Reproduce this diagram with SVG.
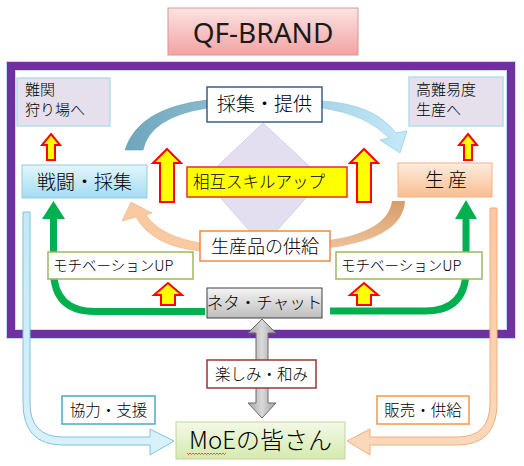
<svg xmlns="http://www.w3.org/2000/svg" width="524" height="466" viewBox="0 0 524 466">
<defs>
<linearGradient id="gTitle" x1="0" y1="0" x2="0" y2="1"><stop offset="0" stop-color="#FCE3E3"/><stop offset="1" stop-color="#F3A3A3"/></linearGradient>
<linearGradient id="gBlue" x1="0" y1="0" x2="0" y2="1"><stop offset="0" stop-color="#E3F6FD"/><stop offset="1" stop-color="#A3DCF3"/></linearGradient>
<linearGradient id="gPeach" x1="0" y1="0" x2="0" y2="1"><stop offset="0" stop-color="#FDEDE0"/><stop offset="1" stop-color="#F9BE8E"/></linearGradient>
<linearGradient id="gGray" x1="0" y1="0" x2="0" y2="1"><stop offset="0" stop-color="#F4F4F4"/><stop offset="1" stop-color="#BDBDBD"/></linearGradient>
<linearGradient id="gGreen" x1="0" y1="0" x2="0" y2="1"><stop offset="0" stop-color="#F3F9E6"/><stop offset="1" stop-color="#D5EAAE"/></linearGradient>
<linearGradient id="gArcBlue" gradientUnits="userSpaceOnUse" x1="125" y1="0" x2="405" y2="0"><stop offset="0" stop-color="#6FA6BC"/><stop offset="1" stop-color="#C2E9F8"/></linearGradient>
<linearGradient id="gArcTan" gradientUnits="userSpaceOnUse" x1="0" y1="200" x2="0" y2="250"><stop offset="0" stop-color="#D59D68"/><stop offset="1" stop-color="#EEC39C"/></linearGradient>
<linearGradient id="gShaft" x1="0" y1="0" x2="1" y2="0"><stop offset="0" stop-color="#A6A6A6"/><stop offset="0.5" stop-color="#D9D9D9"/><stop offset="1" stop-color="#A0A0A0"/></linearGradient>
<linearGradient id="gLB" x1="0" y1="0" x2="0" y2="1"><stop offset="0" stop-color="#C5E9F7"/><stop offset="1" stop-color="#D9F1FA"/></linearGradient>
<linearGradient id="gLO" x1="0" y1="0" x2="0" y2="1"><stop offset="0" stop-color="#FAC8A0"/><stop offset="1" stop-color="#FCD9BC"/></linearGradient>
</defs>
<style>
.jp{font-family:"Noto Sans CJK JP","Noto Sans",sans-serif;font-weight:300;fill:#000}
.yl{fill:#FFFF00;stroke:#FF0000;stroke-width:2;stroke-linejoin:miter}
.lbl{fill:#fff;stroke-width:1.5}
.grn{fill:none;stroke:#00B050;stroke-width:7}
</style>
<rect width="524" height="466" fill="#fff"/>

<g id="title">
<rect x="168" y="8" width="190" height="47" fill="url(#gTitle)" stroke="#D99694" stroke-width="1"/>
<text x="263" y="43" text-anchor="middle" font-family="'Noto Sans',sans-serif" font-size="28" fill="#1a1a1a">QF-BRAND</text>
</g>

<g id="frame">
<rect x="6.5" y="61.5" width="509" height="277" fill="none" stroke="#C6DBEF" stroke-width="1"/>
<rect x="11" y="66" width="500" height="268" fill="#fff" stroke="#7030A0" stroke-width="8"/>
<rect x="15.5" y="70.5" width="491" height="259" fill="none" stroke="#C6DBEF" stroke-width="1"/>
</g>

<g id="diamond">
<polygon points="263,123 323,179 263,246 204,179" fill="#E3DEF0" stroke="#D6D0E8" stroke-width="1"/>
</g>

<g id="connectors">
<path d="M125,150 Q138,108 207,100 L207,108 Q150,117 143,150 Z" fill="url(#gArcBlue)" stroke="#6A9FB5" stroke-width="0.6"/>
<path d="M322,101 Q374,104 396,133 L407,131 L400,153 L380,140 L389,138 Q366,114 322,108 Z" fill="url(#gArcBlue)" stroke="#8AC3DA" stroke-width="0.6"/>
<path d="M392,201 L405,201 Q403,238 330,248 L330,240 Q388,231 392,201 Z" fill="url(#gArcTan)"/>
<path d="M200,243 Q160,236 146,215 L152,213 L131,202 L122,221 L136,217 Q152,246 200,251 Z" fill="#F9C9A2" stroke="#F0AE7E" stroke-width="0.6"/>
<path class="grn" d="M205,311.5 L95,311.5 Q53.5,311.5 53.5,270 L53.5,216"/>
<polygon points="42,219 53.5,201 65,219" fill="#00B050"/>
<path class="grn" d="M330,311 L425,311 Q466,311 466,270 L466,216"/>
<polygon points="455,219 466,200 477,219" fill="#00B050"/>
<path d="M23,212 L30,212 L30,403 Q30,437 63,437 L150,437 L150,429 L174,441 L150,455 L150,445 L63,445 Q23,445 23,403 Z" fill="url(#gLB)" stroke="#7EC4DE" stroke-width="1"/>
<path d="M497,208 L490,208 L490,403 Q490,437 457,437 L370,437 L370,429 L347,441 L370,455 L370,445 L457,445 Q497,445 497,403 Z" fill="url(#gLO)" stroke="#F3AE7C" stroke-width="1"/>
<path d="M262,319 L276,333 L268,333 L268,403 L276,403 L262,418 L248,403 L256,403 L256,333 L248,333 Z" fill="url(#gShaft)" stroke="#6b6b6b" stroke-width="1"/>
<polygon class="yl" points="51,134 60,145 55,145 55,160 47,160 47,145 42,145"/>
<polygon class="yl" points="468,134 477,145 472,145 472,160 464,160 464,145 459,145"/>
<polygon class="yl" points="167,149 181,163 174,163 174,202 160,202 160,163 153,163"/>
<polygon class="yl" points="364,149 378,163 371,163 371,202 357,202 357,163 350,163"/>
<polygon class="yl" points="168,283 182,295 175,295 175,305 161,305 161,295 154,295"/>
<polygon class="yl" points="364,283 378,295 371,295 371,305 357,305 357,295 350,295"/>
</g>

<g id="n-nankan">
<rect x="17" y="78" width="93" height="48" fill="#E5E0EC" stroke="#B7DDE8" stroke-width="1.5"/>
<text class="jp" x="25" y="95" font-size="15">難関</text>
<text class="jp" x="25" y="115" font-size="15">狩り場へ</text>
</g>
<g id="n-kounan">
<rect x="409" y="77" width="94" height="49" fill="#E5E0EC" stroke="#B7DDE8" stroke-width="1.5"/>
<text class="jp" x="416" y="95" font-size="15">高難易度</text>
<text class="jp" x="416" y="115" font-size="15">生産へ</text>
</g>
<g id="n-sentou">
<rect x="22" y="165" width="125" height="33" fill="url(#gBlue)" stroke="#93CDDD" stroke-width="1"/>
<text class="jp" x="84.5" y="189" font-size="19" text-anchor="middle">戦闘・採集</text>
</g>
<g id="n-seisan">
<rect x="398" y="163" width="94" height="34" fill="url(#gPeach)" stroke="#F4B183" stroke-width="1"/>
<text class="jp" x="446" y="187" font-size="19" text-anchor="middle">生 産</text>
</g>
<g id="n-saishu">
<rect x="207" y="87" width="115" height="35" class="lbl" stroke="#385D8A"/>
<text class="jp" x="264.5" y="111" font-size="19" text-anchor="middle">採集・提供</text>
</g>
<g id="n-skill">
<rect x="187" y="167" width="160" height="30" fill="#FFFF00" stroke="#E0302A" stroke-width="1.5"/>
<text class="jp" x="193" y="188" font-size="16.5">相互スキルアップ</text>
</g>
<g id="n-kyokyu">
<rect x="200" y="231" width="130" height="30" class="lbl" stroke="#F08A3E"/>
<text class="jp" x="265" y="253" font-size="18" text-anchor="middle">生産品の供給</text>
</g>
<g id="n-motiL">
<rect x="48" y="252" width="145" height="27" class="lbl" stroke="#9BBB59"/>
<text class="jp" x="53" y="271" font-size="14.5">モチベーションUP</text>
</g>
<g id="n-motiR">
<rect x="336" y="252" width="146" height="27" class="lbl" stroke="#9BBB59"/>
<text class="jp" x="341" y="271" font-size="14.5">モチベーションUP</text>
</g>
<g id="n-neta">
<rect x="207" y="288" width="115" height="30" fill="url(#gGray)" stroke="#404040" stroke-width="1"/>
<text class="jp" x="264.5" y="309" font-size="16.5" text-anchor="middle">ネタ・チャット</text>
</g>
<g id="n-tanoshimi">
<rect x="207" y="360" width="109" height="28" class="lbl" stroke="#953735"/>
<text class="jp" x="261.5" y="380" font-size="15.5" text-anchor="middle">楽しみ・和み</text>
</g>
<g id="n-kyouryoku">
<rect x="62" y="396" width="93" height="28" class="lbl" stroke="#4BACC6"/>
<text class="jp" x="108.5" y="416" font-size="15.5" text-anchor="middle">協力・支援</text>
</g>
<g id="n-hanbai">
<rect x="377" y="396" width="92" height="28" class="lbl" stroke="#F79646"/>
<text class="jp" x="423" y="416" font-size="15.5" text-anchor="middle">販売・供給</text>
</g>
<g id="n-moe">
<rect x="176" y="422" width="169" height="37" fill="url(#gGreen)" stroke="#C3D69B" stroke-width="1"/>
<text class="jp" x="260.5" y="449" font-size="24" text-anchor="middle">MoEの皆さん</text>
<path d="M187,453 l1.5,1.5 l1.5,-1.5 l1.5,1.5 l1.5,-1.5 l1.5,1.5 l1.5,-1.5 l1.5,1.5 l1.5,-1.5 l1.5,1.5 l1.5,-1.5 l1.5,1.5 l1.5,-1.5 l1.5,1.5 l1.5,-1.5 l1.5,1.5 l1.5,-1.5 l1.5,1.5 l1.5,-1.5 l1.5,1.5 l1.5,-1.5 l1.5,1.5 l1.5,-1.5 l1.5,1.5 l1.5,-1.5 l1.5,1.5 l1.5,-1.5" fill="none" stroke="#E03030" stroke-width="0.8"/>
</g>
</svg>
